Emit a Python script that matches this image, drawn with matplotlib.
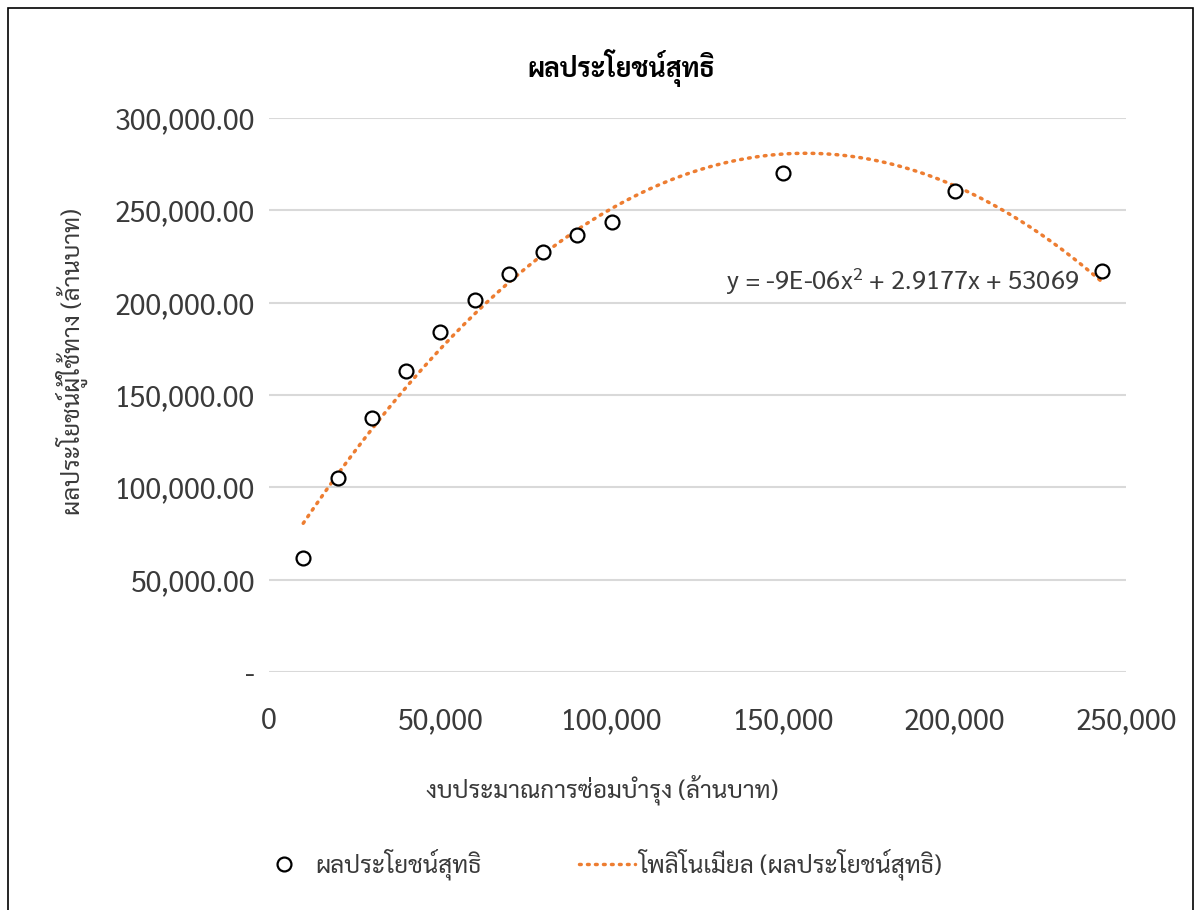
import numpy as np
import matplotlib
matplotlib.use("Agg")
import matplotlib.pyplot as plt
from matplotlib.ticker import FuncFormatter
from matplotlib.patches import Rectangle

budget = [10000, 20000, 30000, 40000, 50000, 60000, 70000, 80000, 90000,
          100000, 150000, 200000, 243000]
benefit = [61500, 105000, 137800, 163200, 184300, 201500, 215800, 227500,
           236800, 243800, 270300, 260500, 217000]

title = "ผลประโยชน์สุทธิ"
xlabel = "งบประมาณการซ่อมบำรุง (ล้านบาท)"
ylabel = "ผลประโยชน์ผู้ใช้ทาง (ล้านบาท)"
trend_label = "โพลิโนเมียล (ผลประโยชน์สุทธิ)"
equation = "y = -9E-06x$^2$ + 2.9177x + 53069"

plt.rcParams['font.family'] = ['Sarabun', 'DejaVu Sans']
plt.rcParams['mathtext.fontset'] = 'custom'
plt.rcParams['mathtext.rm'] = 'Sarabun'
plt.rcParams['mathtext.it'] = 'Sarabun'

TICK_FS = 20.5
THAI_FS = 17.5
GREY = '#3a3a3a'

fig = plt.figure(figsize=(11.98, 9.10), dpi=100)
fig.patches.append(Rectangle((0.007, -0.01), 0.989, 1.001, transform=fig.transFigure,
                             fill=False, edgecolor='black', linewidth=1.2))

ax = fig.add_axes([0.2245, 0.2615, 0.7154, 0.6088])

# 2nd order trendline, same as excel's polynomial fit
coef = np.polyfit(budget, benefit, 2)
xs = np.linspace(min(budget), max(budget), 300)
ax.plot(xs, np.polyval(coef, xs), color='#ED7D31', linestyle=(0, (0.5, 1.8)),
        linewidth=2.5, dash_capstyle='round', label=trend_label, zorder=2)
ax.plot(budget, benefit, linestyle='none', marker='o', markersize=10,
        markerfacecolor='white', markeredgecolor='black', markeredgewidth=1.6,
        label=title, zorder=3)

ax.set_xlim(0, 250000)
ax.set_ylim(0, 300000)
ax.set_xticks(np.arange(0, 250001, 50000))
ax.set_yticks(np.arange(0, 300001, 50000))
ax.xaxis.set_major_formatter(FuncFormatter(lambda v, p: f"{v:,.0f}"))
ax.yaxis.set_major_formatter(FuncFormatter(lambda v, p: "-" if v == 0 else f"{v:,.2f}"))
ax.tick_params(length=0, labelsize=TICK_FS, colors=GREY)
ax.tick_params(axis='y', pad=10)
ax.tick_params(axis='x', pad=25)
for s in ax.spines.values():
    s.set_visible(False)
ax.grid(axis='y', color='#d9d9d9', linewidth=1.5)
ax.set_axisbelow(True)

ax.text(0.945, 0.705, equation, transform=ax.transAxes, ha='right', va='center',
        fontsize=18.5, color=GREY)

fig.text(0.519, 0.925, title, ha='center', va='center', fontsize=19,
         fontweight='bold', color='black')
fig.text(0.503, 0.132, xlabel, ha='center', va='center', fontsize=THAI_FS, color=GREY)
fig.text(0.06, 0.603, ylabel, ha='center', va='center', fontsize=THAI_FS,
         color=GREY, rotation=90)

h, l = ax.get_legend_handles_labels()
fig.legend(h[::-1], l[::-1], loc='center', bbox_to_anchor=(0.5, 0.05), ncol=2,
           frameon=False, fontsize=THAI_FS, handlelength=2.3, handletextpad=0.15,
           columnspacing=4.0, labelcolor=GREY)

fig.savefig("out.png", dpi=100)
